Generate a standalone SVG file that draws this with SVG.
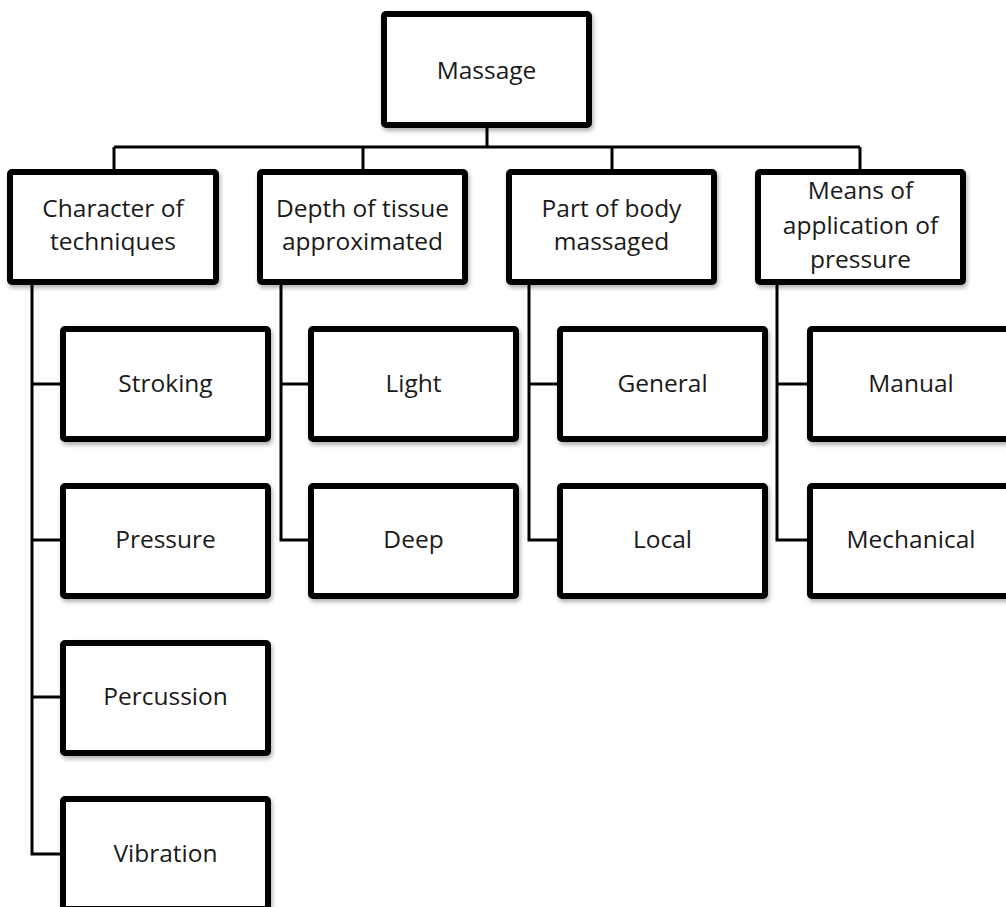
<svg xmlns="http://www.w3.org/2000/svg" width="1006" height="907" viewBox="0 0 1006 907">
<defs>
<filter id="sh" x="-10%" y="-10%" width="130%" height="140%">
<feDropShadow dx="1.5" dy="3" stdDeviation="2" flood-color="#000" flood-opacity="0.3"/>
</filter>
<style>
.box{fill:#fff;stroke:#000;stroke-width:6;filter:url(#sh)}
.ln{fill:none;stroke:#000;stroke-width:3;stroke-linejoin:miter}
.t{font-family:"Open Sans","Liberation Sans",sans-serif;font-size:24.5px;fill:#1a1a1a;text-anchor:middle}
</style>
</defs>
<rect width="1006" height="907" fill="#fff"/>
<g id="connectors">
<path class="ln" d="M487 128V147M114 147H860M114 147V169M363 147V169M612 147V169M860 147V169"/>
<path class="ln" d="M32 284V854H60M32 384H60M32 540H60M32 697H60"/>
<path class="ln" d="M281 284V540H308M281 384H308"/>
<path class="ln" d="M529 284V540H557M529 384H557"/>
<path class="ln" d="M777 284V540H807M777 384H807"/>
</g>
<g id="n-massage"><rect class="box" x="384" y="14" width="205" height="111" rx="2"/><text class="t" x="486.5" y="79">Massage</text></g>
<g id="n-character"><rect class="box" x="10" y="172" width="206" height="110" rx="2"/><text class="t" x="113" y="217">Character of</text><text class="t" x="113" y="250">techniques</text></g>
<g id="n-depth"><rect class="box" x="260" y="172" width="205" height="110" rx="2"/><text class="t" x="362.5" y="217">Depth of tissue</text><text class="t" x="362.5" y="250">approximated</text></g>
<g id="n-part"><rect class="box" x="509" y="172" width="205" height="110" rx="2"/><text class="t" x="611.5" y="217">Part of body</text><text class="t" x="611.5" y="250">massaged</text></g>
<g id="n-means"><rect class="box" x="758" y="172" width="205" height="110" rx="2"/><text class="t" x="860.5" y="199">Means of</text><text class="t" x="860.5" y="234">application of</text><text class="t" x="860.5" y="268">pressure</text></g>
<g id="n-stroking"><rect class="box" x="63" y="329" width="205" height="110" rx="2"/><text class="t" x="165.5" y="392">Stroking</text></g>
<g id="n-pressure"><rect class="box" x="63" y="486" width="205" height="110" rx="2"/><text class="t" x="165.5" y="548">Pressure</text></g>
<g id="n-percussion"><rect class="box" x="63" y="643" width="205" height="110" rx="2"/><text class="t" x="165.5" y="705">Percussion</text></g>
<g id="n-vibration"><rect class="box" x="63" y="799" width="205" height="110" rx="2"/><text class="t" x="165.5" y="862">Vibration</text></g>
<g id="n-light"><rect class="box" x="311" y="329" width="205" height="110" rx="2"/><text class="t" x="413.5" y="392">Light</text></g>
<g id="n-deep"><rect class="box" x="311" y="486" width="205" height="110" rx="2"/><text class="t" x="413.5" y="548">Deep</text></g>
<g id="n-general"><rect class="box" x="560" y="329" width="205" height="110" rx="2"/><text class="t" x="662.5" y="392">General</text></g>
<g id="n-local"><rect class="box" x="560" y="486" width="205" height="110" rx="2"/><text class="t" x="662.5" y="548">Local</text></g>
<g id="n-manual"><rect class="box" x="810" y="329" width="205" height="110" rx="2"/><text class="t" x="911" y="392">Manual</text></g>
<g id="n-mechanical"><rect class="box" x="810" y="486" width="205" height="110" rx="2"/><text class="t" x="911" y="548">Mechanical</text></g>
</svg>
